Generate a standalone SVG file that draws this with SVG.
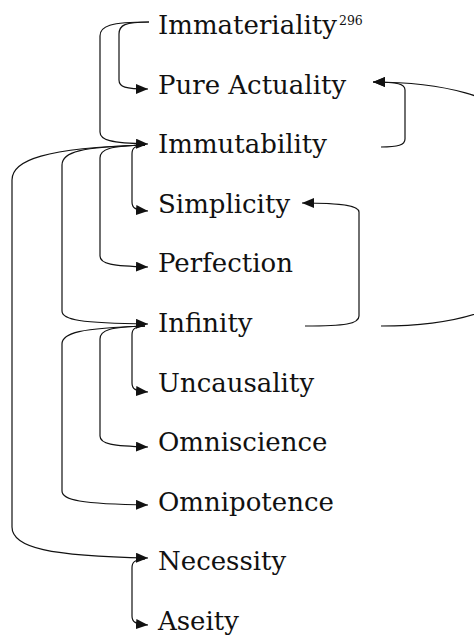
<svg xmlns="http://www.w3.org/2000/svg" width="474" height="636" viewBox="0 0 474 636">
<defs>
<style>
.lbl{font-family:"DejaVu Serif","Liberation Serif",serif;font-size:26px;fill:#111}
.sup{font-size:12.5px}
.e{fill:none;stroke:#111;stroke-width:1.2}
.a{marker-end:url(#arr)}
</style>
<marker id="arr" markerUnits="userSpaceOnUse" markerWidth="13" markerHeight="11" refX="12" refY="5" orient="auto">
<path d="M0,0 L12,5 L0,10 z" fill="#111"/>
</marker>
</defs>
<rect width="474" height="636" fill="#fff"/>
<g id="connectors">
<path class="e a" d="M149,22 C125,22 119,25 119,34 L119,80 C119,87 125,89 148,89"/>
<path class="e a" d="M149,22 C110,22 100,26 100,36 L100,132 C100,140 110,143 148,144"/>
<path class="e a" d="M145,145 C134,146 132,148 132,154 L132,202 C132,208 135,210 148,211"/>
<path class="e a" d="M145,145 C110,146 100,149 100,158 L100,256 C100,264 112,266 148,267"/>
<path class="e a" d="M145,145 C80,147 62,152 62,165 L62,311 C62,320 80,323 148,324"/>
<path class="e a" d="M145,145 C45,148 12,160 12,180 L12,527 C12,548 50,556 148,558"/>
<path class="e a" d="M145,326 C134,327 132,329 132,335 L132,383 C132,389 135,391 148,392"/>
<path class="e a" d="M145,326 C110,327 100,330 100,339 L100,436 C100,444 112,446 148,447"/>
<path class="e a" d="M145,326 C80,328 62,333 62,344 L62,491 C62,500 80,504 148,505"/>
<path class="e a" d="M145,559 C134,560 132,562 132,568 L132,616 C132,622 135,624 148,625"/>
<path class="e a" d="M381,147 C398,147 405,145 405,139 L405,90 C405,84 398,82 373,82"/>
<path class="e a" d="M305,326 C345,326 359,324 359,316 L359,212 C359,206 345,203 302,203"/>
<path class="e a" d="M381,326 C440,326 500,316 530,280 L530,130 C500,95 440,82 373,82"/>
</g>
<g id="n-immateriality"><text class="lbl" x="158" y="34">Immateriality<tspan class="sup" dx="2" dy="-9">296</tspan></text></g>
<g id="n-pure-actuality"><text class="lbl" x="158" y="93.6">Pure Actuality</text></g>
<g id="n-immutability"><text class="lbl" x="158" y="153.2">Immutability</text></g>
<g id="n-simplicity"><text class="lbl" x="158" y="212.8">Simplicity</text></g>
<g id="n-perfection"><text class="lbl" x="158" y="272.4">Perfection</text></g>
<g id="n-infinity"><text class="lbl" x="158" y="332">Infinity</text></g>
<g id="n-uncausality"><text class="lbl" x="158" y="391.6">Uncausality</text></g>
<g id="n-omniscience"><text class="lbl" x="158" y="451.2">Omniscience</text></g>
<g id="n-omnipotence"><text class="lbl" x="158" y="510.8">Omnipotence</text></g>
<g id="n-necessity"><text class="lbl" x="158" y="570.4">Necessity</text></g>
<g id="n-aseity"><text class="lbl" x="158" y="630">Aseity</text></g>
</svg>
